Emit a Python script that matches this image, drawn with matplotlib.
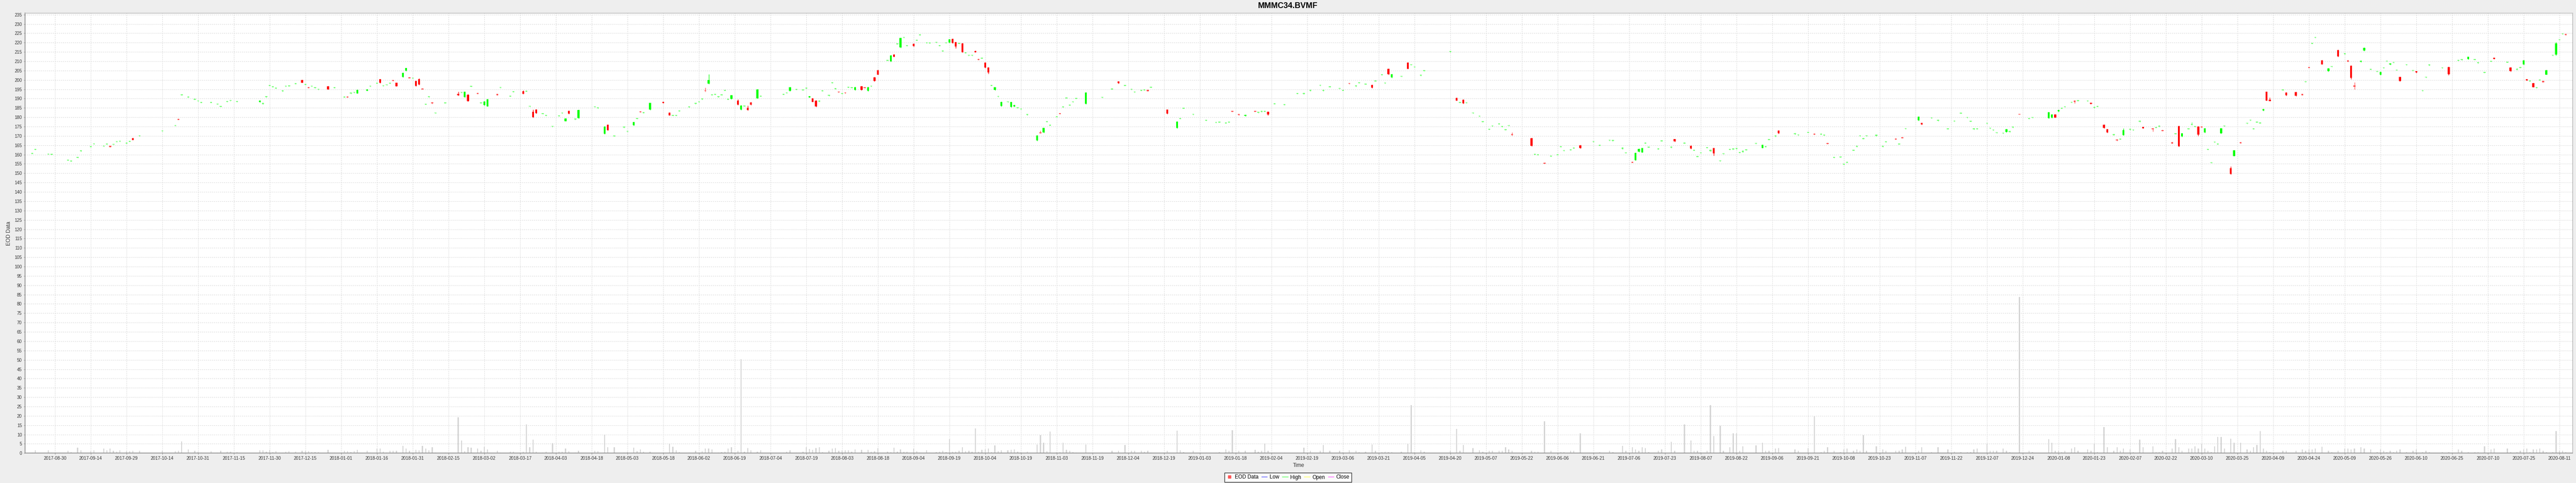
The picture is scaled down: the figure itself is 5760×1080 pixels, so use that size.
import numpy as np
import matplotlib
matplotlib.use("Agg")
import matplotlib.pyplot as plt
from matplotlib.lines import Line2D

plt.rcParams['font.family'] = ['Liberation Sans', 'DejaVu Sans']

title = "MMMC34.BVMF"
x_label = "Time"
y_label = "EOD Data"

# trading-day number of each session, counted on a Mon-Fri timeline from 2017-08-30
sessions = [
    -7, -6, -2, -1, 4, 5, 7, 8, 11, 12, 15, 16, 17, 18, 19, 20, 22, 23, 24, 26,
    33, 37, 38, 39, 41, 43, 44, 45, 48, 50, 51, 53, 54, 56, 63, 64, 65, 66, 67, 68,
    70, 71, 72, 74, 76, 77, 78, 79, 80, 81, 84, 86, 89, 90, 91, 92, 93, 96, 97, 99,
    100, 101, 102, 103, 104, 105, 107, 108, 109, 110, 111, 112, 113, 114, 115, 116, 117, 120, 124, 125,
    126, 127, 128, 130, 131, 132, 133, 136, 137, 140, 141, 144, 145, 146, 147, 148, 150, 151, 153, 155,
    156, 157, 158, 160, 161, 166, 167, 169, 170, 172, 175, 176, 178, 179, 180, 181, 183, 187, 189, 190,
    191, 192, 195, 197, 198, 199, 200, 201, 202, 203, 204, 205, 206, 207, 208, 210, 211, 212, 213, 214,
    216, 217, 224, 225, 226, 228, 230, 231, 232, 233, 234, 235, 236, 238, 239, 240, 241, 242, 243, 244,
    245, 246,
    248, 249, 250, 251, 252, 253, 256, 257, 258, 259, 260, 261, 262, 264, 265, 266, 268, 269, 271, 272,
    273, 274, 275, 276, 277, 278, 279, 280, 281, 282, 283, 284, 285, 286, 287, 288, 289, 290, 291, 293,
    294, 295, 296, 297, 299, 302, 303, 304, 305, 306, 308, 309, 310, 311, 312, 313, 314, 317, 322, 325,
    327, 329, 331, 332, 334, 335, 336, 337, 342, 345, 346, 347, 350, 354, 357, 358, 360, 361, 362, 364,
    366, 369, 370, 371, 372, 373, 375, 378, 382, 384, 386, 389, 390, 392, 395, 396, 398, 400, 401, 403,
    405, 406, 408, 409, 410, 411, 414, 416, 417, 418, 420, 421, 429, 431, 432, 433, 434, 436, 438, 439,
    441, 442, 444, 445, 446, 447, 448, 454, 455, 456, 458, 460, 462, 463, 464, 466, 467, 469, 473, 475,
    478, 479, 482, 483, 485, 486, 487, 488, 489, 490, 493, 494, 497, 498, 501, 503, 504, 505, 506, 508,
    509, 510,
    512, 513, 515, 516, 517, 518, 519, 520, 523, 525, 526, 527, 529, 530, 535, 536, 539, 541, 543, 544,
    545, 547, 549, 550, 551, 553, 554, 555, 556, 557, 560, 562, 563, 566, 567, 568, 569, 573, 574, 577,
    579, 582, 584, 586, 588, 589, 590, 591, 594, 595, 596, 597, 599, 600, 601, 602, 604, 607, 608, 613,
    614, 615, 616, 617, 618, 620, 621, 622, 625, 626, 627, 628, 630, 631, 633, 634, 635, 636, 638, 639,
    641, 642, 645, 646, 647, 648, 651, 652, 653, 654, 656, 657, 658, 659, 660, 661, 662, 663, 664, 665,
    666, 667, 669, 670, 672, 674, 675, 676, 677, 678, 679, 680, 681, 685, 686, 689, 691, 692, 693, 694,
    695, 697, 699, 700, 702, 704, 705, 706, 707, 709, 710, 712, 714, 715, 716, 717, 718, 719, 720, 721,
    723, 725, 726, 728, 729, 730, 734, 736, 739, 740, 742, 744, 745, 747, 749, 750, 754, 755, 757, 758,
    759, 760, 761, 762, 763, 764, 765, 766, 768, 769, 770, 771, 772,
]

opens = [
    160.4, 162.6, 160.1, 159.9, 156.8, 156.3, 158.3, 161.8, 164.1, 165.6, 164.4, 165.5, 164.6, 165.3, 166.8, 167.0, 166.0, 166.9, 168.8, 169.9,
    172.5, 175.4, 179.1, 191.8, 190.7, 189.5, 188.6, 187.8, 187.8, 186.9, 185.6, 188.2, 188.8, 188.2, 188.2, 187.1, 190.8, 196.8, 196.2, 195.4,
    193.9, 196.5, 196.6, 197.8, 200.0, 197.4, 196.1, 196.5, 195.6, 194.8, 196.6, 195.6, 190.7, 191.1, 192.7, 193.1, 192.8, 194.2, 196.5, 198.0,
    200.3, 196.7, 197.2, 198.0, 199.9, 198.4, 201.5, 205.0, 201.4, 200.8, 199.4, 200.3, 195.4, 186.8, 190.8, 188.0, 182.1, 187.5, 192.5, 193.1,
    190.8, 192.0, 196.4, 193.0, 187.5, 186.5, 185.9, 192.4, 195.8, 191.1, 193.5, 194.0, 193.8, 185.7, 183.0, 184.1, 181.8, 180.8, 174.9, 180.6,
    182.1, 178.0, 183.5, 178.8, 179.6, 185.5, 184.8, 171.2, 176.0, 169.8, 174.5, 172.3, 175.8, 179.1, 183.1, 182.3, 184.0, 188.3, 182.4, 180.8,
    180.8, 183.2, 185.3, 187.2, 188.1, 189.6, 194.4, 198.0, 191.8, 192.1, 190.8, 191.8, 194.2, 189.5, 189.8, 189.0, 184.0, 185.8, 185.0, 188.0,
    190.2, 191.1, 192.1, 192.9, 194.1, 194.7, 194.5, 195.4, 190.7, 190.2, 189.0, 188.4, 194.0, 191.5, 198.3, 195.1, 193.8, 192.5, 193.3, 195.9,
    195.6, 194.6,
    196.5, 196.0, 194.2, 196.5, 201.3, 205.2, 210.3, 210.0, 213.6, 219.1, 217.4, 222.6, 218.2, 219.3, 221.0, 224.0, 219.7, 219.6, 220.0, 218.2,
    215.3, 219.7, 220.0, 222.0, 220.2, 219.4, 219.6, 214.4, 213.0, 213.0, 215.6, 211.2, 211.5, 209.3, 206.6, 196.9, 194.6, 191.0, 186.0, 188.1,
    185.5, 185.8, 184.9, 184.3, 181.2, 167.5, 172.0, 171.8, 177.5, 175.6, 180.1, 182.1, 185.3, 190.2, 186.3, 188.1, 189.9, 187.2, 190.5, 195.0,
    199.1, 196.8, 194.8, 193.4, 194.2, 194.4, 194.6, 195.9, 184.0, 174.2, 179.1, 184.6, 181.4, 178.2, 177.1, 177.2, 176.8, 177.2, 183.3, 181.6,
    180.7, 183.3, 182.4, 182.9, 182.9, 183.0, 187.0, 186.6, 192.5, 192.5, 194.2, 197.0, 194.2, 196.2, 195.3, 194.2, 198.3, 196.6, 198.3, 197.6,
    197.3, 199.2, 202.6, 198.2, 205.9, 201.3, 201.8, 209.2, 208.0, 206.8, 202.3, 204.8, 215.0, 190.3, 187.8, 189.4, 187.6, 182.1, 180.4, 177.4,
    173.4, 175.2, 176.3, 174.8, 173.1, 175.4, 170.9, 168.7, 160.0, 159.7, 155.6, 159.0, 159.7, 164.0, 162.0, 162.3, 163.3, 164.9, 166.8, 164.8,
    167.5, 167.3, 163.1, 160.8, 156.1, 157.1, 161.5, 161.2, 166.0, 163.8, 162.9, 167.2, 163.7, 168.2, 166.0, 164.7, 162.1, 158.8, 160.8, 163.6,
    161.9, 163.4,
    156.5, 160.3, 162.6, 162.8, 163.0, 160.9, 161.4, 162.3, 165.8, 163.6, 164.1, 167.8, 169.8, 172.9, 171.0, 170.4, 171.7, 171.1, 170.8, 170.2,
    166.2, 158.3, 158.5, 154.6, 155.7, 162.1, 164.2, 169.9, 168.4, 169.9, 170.0, 164.2, 166.6, 168.5, 165.5, 169.2, 173.7, 178.4, 176.9, 179.5,
    178.1, 173.6, 177.8, 182.0, 179.7, 177.7, 173.6, 173.6, 176.6, 174.0, 173.0, 171.6, 171.3, 172.1, 172.2, 174.5, 181.8, 179.1, 179.7, 179.6,
    179.8, 181.4, 183.2, 184.6, 185.5, 187.9, 188.8, 188.7, 188.6, 187.8, 185.0, 185.6, 176.0, 173.5, 170.4, 168.1, 168.1, 170.4, 173.4, 173.0,
    177.6, 174.8, 174.0, 174.3, 175.0, 173.1, 166.6, 171.0, 175.2, 169.8, 173.6, 175.9, 174.8, 175.1, 175.0, 171.8, 162.6, 155.5, 166.5, 165.5,
    171.3, 175.2, 152.8, 159.3, 166.7, 176.6, 178.3, 173.6, 177.2, 176.8, 183.7, 193.6, 189.3, 194.5, 193.2, 193.5, 192.4, 198.9, 206.8, 219.4,
    222.6, 210.4, 204.6, 207.0, 216.0, 213.8, 210.4, 207.7, 197.0, 209.7, 215.8, 205.5, 204.4, 202.7, 206.3, 209.9, 208.2, 209.2, 205.1, 201.5,
    208.0, 204.9, 204.6, 194.1, 201.3, 207.8, 206.3, 206.8, 210.3, 210.7, 211.1, 210.8, 209.0, 203.8, 209.8, 211.8, 209.3, 206.6, 205.5, 206.5,
    208.3, 200.3, 199.3, 198.2, 195.6, 199.8, 199.4, 202.9, 213.0, 213.5, 221.4, 224.5, 224.6,
]

highs = [
    160.9, 163.1, 160.6, 160.4, 157.3, 156.8, 158.8, 162.3, 164.6, 166.1, 164.9, 166.0, 164.7, 165.8, 167.3, 167.5, 166.5, 167.4, 168.9, 170.4,
    173.0, 175.9, 179.2, 192.3, 191.2, 190.0, 189.1, 188.3, 188.3, 187.4, 186.1, 188.7, 189.3, 188.7, 189.1, 187.8, 191.3, 197.3, 196.7, 195.9,
    194.4, 197.0, 197.1, 198.3, 200.2, 197.9, 196.3, 197.0, 196.1, 195.3, 196.8, 196.1, 191.2, 191.2, 193.2, 193.6, 194.8, 195.2, 197.0, 198.5,
    200.5, 197.2, 197.7, 198.5, 200.0, 198.6, 204.0, 206.5, 201.5, 201.3, 199.6, 200.8, 195.6, 187.3, 191.3, 188.2, 182.6, 188.0, 193.7, 193.6,
    193.8, 192.4, 196.9, 193.2, 188.0, 188.6, 189.8, 192.6, 196.3, 191.6, 194.0, 194.4, 194.3, 186.2, 184.0, 184.3, 182.3, 181.3, 175.4, 181.1,
    182.6, 179.5, 183.7, 179.3, 184.0, 186.0, 185.3, 175.2, 176.2, 170.3, 175.0, 172.8, 177.7, 179.6, 183.2, 182.8, 187.8, 188.5, 182.6, 181.3,
    181.3, 183.7, 185.8, 187.7, 188.6, 190.1, 195.8, 203.0, 192.3, 192.6, 191.3, 192.3, 194.7, 190.0, 191.9, 189.6, 186.5, 186.3, 186.3, 188.2,
    195.2, 191.6, 192.6, 193.4, 196.2, 195.2, 195.0, 195.9, 191.4, 190.4, 189.2, 189.1, 194.5, 192.0, 198.8, 195.6, 194.0, 193.0, 193.5, 196.4,
    196.1, 196.3,
    196.7, 196.2, 196.3, 197.0, 201.5, 205.4, 210.8, 213.4, 213.8, 219.6, 222.7, 223.1, 218.7, 219.5, 221.5, 224.5, 220.2, 220.1, 220.5, 218.7,
    215.8, 220.2, 222.0, 222.2, 220.4, 219.9, 219.8, 214.9, 213.5, 213.5, 215.8, 211.4, 212.0, 209.5, 206.8, 197.4, 196.2, 191.5, 188.5, 188.6,
    188.3, 186.8, 185.4, 184.8, 181.7, 170.5, 172.8, 174.4, 178.0, 176.1, 180.6, 182.3, 185.8, 190.7, 186.8, 188.6, 190.4, 193.4, 191.0, 195.5,
    199.3, 197.3, 195.3, 193.9, 194.7, 194.9, 194.8, 196.4, 184.2, 177.9, 179.6, 185.1, 181.9, 178.7, 177.6, 177.7, 177.3, 177.7, 183.5, 181.8,
    181.5, 183.5, 182.9, 183.5, 183.4, 183.2, 187.5, 187.1, 193.0, 193.2, 194.8, 197.5, 194.8, 196.7, 195.8, 194.7, 198.5, 197.2, 198.8, 198.1,
    197.5, 199.7, 203.1, 198.7, 206.1, 203.3, 202.3, 209.4, 208.5, 207.3, 202.8, 205.3, 215.5, 190.5, 188.3, 189.6, 188.1, 182.6, 180.9, 177.9,
    173.9, 175.7, 176.8, 175.3, 173.6, 175.9, 172.0, 168.9, 160.5, 160.2, 155.8, 159.5, 160.2, 164.5, 162.5, 162.8, 163.8, 165.1, 167.3, 165.3,
    168.0, 167.9, 163.9, 161.3, 156.3, 161.0, 163.2, 163.6, 166.5, 164.3, 163.4, 167.7, 164.4, 168.4, 166.5, 164.9, 162.6, 159.3, 161.3, 164.1,
    162.7, 163.6,
    157.0, 160.8, 163.1, 163.5, 163.5, 161.4, 162.2, 162.8, 166.3, 165.3, 164.6, 168.3, 170.5, 173.1, 171.6, 170.9, 172.2, 171.3, 171.3, 170.7,
    166.4, 158.8, 159.0, 155.1, 156.2, 162.6, 164.7, 170.4, 168.9, 170.4, 170.8, 164.7, 167.1, 168.7, 166.0, 169.4, 174.3, 180.4, 177.1, 180.0,
    178.9, 174.1, 178.3, 182.5, 180.2, 178.2, 174.2, 174.1, 177.1, 174.5, 173.5, 172.1, 171.8, 173.7, 172.9, 175.0, 182.0, 179.6, 180.3, 182.8,
    181.6, 181.6, 184.1, 185.1, 186.0, 188.5, 189.1, 189.2, 189.1, 188.0, 185.7, 186.1, 176.2, 173.7, 171.1, 168.3, 168.6, 174.0, 174.1, 173.5,
    178.4, 175.0, 174.2, 174.8, 175.8, 173.3, 166.8, 171.5, 175.4, 171.5, 174.1, 177.3, 175.3, 175.3, 175.2, 174.2, 163.1, 156.0, 167.0, 166.0,
    174.2, 175.7, 153.7, 162.4, 166.9, 177.1, 178.8, 174.1, 177.7, 177.3, 184.5, 193.8, 190.5, 195.0, 193.4, 193.7, 192.6, 199.4, 207.0, 219.9,
    223.1, 210.6, 206.4, 207.5, 216.2, 214.3, 210.6, 207.9, 198.7, 210.5, 217.4, 206.0, 204.9, 204.5, 206.8, 210.4, 209.0, 209.7, 205.6, 201.7,
    208.5, 205.4, 204.8, 194.6, 201.8, 208.3, 206.8, 207.0, 210.8, 211.3, 212.5, 211.3, 209.5, 204.3, 210.3, 212.0, 209.8, 206.8, 206.4, 207.0,
    210.7, 200.5, 199.8, 198.4, 196.1, 200.3, 199.6, 205.4, 213.5, 220.3, 221.9, 225.0, 224.8,
]

lows = [
    160.3, 162.5, 160.0, 159.8, 156.7, 156.2, 158.2, 161.7, 164.0, 165.5, 164.3, 165.4, 163.9, 165.2, 166.7, 166.9, 165.9, 166.8, 167.7, 169.8,
    172.4, 175.3, 178.5, 191.7, 190.6, 189.4, 188.5, 187.7, 187.7, 186.8, 185.5, 188.1, 188.7, 188.1, 188.0, 186.9, 190.7, 196.7, 196.1, 195.3,
    193.8, 196.4, 196.5, 197.7, 198.4, 197.3, 195.5, 196.4, 195.5, 194.7, 194.9, 195.5, 190.6, 190.6, 192.6, 193.0, 192.7, 194.1, 196.4, 197.9,
    198.2, 196.6, 197.1, 197.9, 199.4, 196.5, 201.3, 204.8, 200.8, 200.7, 196.6, 197.3, 194.8, 186.7, 190.7, 187.3, 182.0, 187.4, 191.6, 193.0,
    190.6, 188.5, 196.3, 192.5, 187.4, 186.3, 185.7, 191.7, 195.7, 191.0, 193.4, 192.4, 193.7, 185.6, 179.8, 182.0, 181.7, 180.7, 174.8, 180.5,
    182.0, 177.8, 181.7, 178.7, 179.4, 185.4, 184.7, 171.0, 172.9, 169.7, 174.4, 172.2, 175.6, 179.0, 182.6, 182.2, 183.8, 187.5, 180.9, 180.7,
    180.7, 183.1, 185.2, 187.1, 188.0, 189.5, 193.6, 197.8, 191.7, 192.0, 190.7, 191.7, 194.1, 189.4, 189.6, 186.6, 183.8, 185.7, 183.6, 186.5,
    190.0, 191.0, 192.0, 192.8, 193.9, 194.6, 194.4, 195.3, 190.6, 188.1, 185.6, 188.3, 193.9, 191.4, 198.2, 195.0, 193.3, 192.4, 192.8, 195.8,
    195.5, 194.4,
    194.5, 195.5, 194.0, 196.4, 199.2, 202.7, 210.2, 209.8, 212.3, 219.0, 217.2, 222.5, 218.1, 218.0, 220.9, 223.9, 219.6, 219.5, 219.9, 218.1,
    215.2, 219.6, 219.8, 219.6, 217.0, 219.3, 214.7, 214.3, 212.9, 212.9, 214.8, 210.7, 211.4, 206.4, 203.4, 196.8, 194.4, 190.9, 185.8, 188.0,
    185.3, 185.6, 184.8, 184.2, 181.1, 167.3, 171.3, 171.6, 177.4, 175.5, 180.0, 181.7, 185.2, 190.1, 186.2, 188.0, 189.8, 187.0, 190.4, 194.9,
    198.0, 196.7, 194.7, 193.3, 194.1, 194.3, 193.9, 195.8, 181.7, 174.0, 179.0, 184.5, 181.3, 178.1, 177.0, 177.1, 176.7, 177.1, 182.8, 181.1,
    180.5, 182.8, 182.3, 182.7, 182.8, 181.0, 186.9, 186.5, 192.4, 192.3, 194.0, 196.9, 194.0, 196.1, 195.2, 194.1, 197.8, 196.4, 198.2, 197.5,
    195.6, 199.1, 202.5, 198.1, 202.9, 201.1, 201.7, 205.8, 207.9, 206.7, 202.2, 204.7, 214.9, 188.8, 187.7, 187.3, 187.5, 182.0, 180.3, 177.3,
    173.3, 175.1, 176.2, 174.7, 173.0, 175.3, 170.3, 164.4, 159.9, 159.6, 155.1, 158.9, 159.6, 163.9, 161.9, 162.2, 163.2, 163.2, 166.7, 164.7,
    167.4, 167.1, 162.9, 160.7, 155.6, 156.9, 161.3, 161.0, 165.9, 163.7, 162.8, 167.1, 163.5, 166.8, 165.9, 163.1, 162.0, 158.7, 160.7, 163.5,
    161.7, 159.5,
    156.4, 160.2, 162.5, 162.6, 162.9, 160.8, 161.2, 162.2, 165.7, 163.4, 164.0, 167.7, 169.6, 171.1, 170.8, 170.3, 171.6, 170.6, 170.7, 170.1,
    165.6, 158.2, 158.4, 154.5, 155.6, 162.0, 164.1, 169.8, 168.3, 169.8, 169.8, 164.1, 166.5, 168.0, 165.4, 168.7, 173.5, 178.2, 176.0, 179.4,
    177.9, 173.5, 177.7, 181.9, 179.6, 177.6, 173.4, 173.5, 176.5, 173.9, 172.9, 171.5, 171.2, 171.9, 172.0, 174.4, 181.4, 179.0, 179.5, 179.4,
    179.6, 179.7, 183.0, 184.5, 185.4, 187.7, 187.5, 188.6, 188.5, 187.1, 184.8, 185.5, 174.0, 171.6, 170.2, 167.4, 168.0, 170.2, 173.2, 172.9,
    177.4, 174.0, 172.3, 174.2, 174.8, 172.6, 165.9, 170.9, 164.2, 169.6, 173.5, 175.7, 174.7, 169.9, 174.5, 171.6, 162.5, 155.4, 166.4, 165.4,
    171.1, 175.1, 149.3, 159.1, 166.0, 176.5, 178.2, 173.5, 177.1, 176.7, 183.5, 188.8, 188.6, 194.4, 191.5, 191.3, 191.7, 198.8, 206.3, 219.3,
    222.5, 208.2, 204.4, 206.9, 212.5, 213.7, 209.7, 200.5, 194.8, 209.5, 215.6, 205.4, 204.3, 202.5, 206.2, 209.8, 208.0, 209.1, 205.0, 199.3,
    207.9, 204.8, 203.8, 194.0, 201.2, 207.7, 206.2, 202.6, 210.2, 210.5, 210.9, 210.7, 208.9, 203.7, 209.7, 211.1, 209.2, 204.4, 205.3, 206.4,
    208.1, 199.6, 199.2, 196.0, 195.5, 199.7, 198.7, 202.7, 212.9, 213.2, 221.3, 224.4, 224.0,
]

closes = [
    160.8, 163.0, 160.5, 160.3, 157.2, 156.7, 158.7, 162.2, 164.5, 166.0, 164.8, 165.9, 164.0, 165.7, 167.2, 167.4, 166.4, 167.3, 167.8, 170.3,
    172.9, 175.8, 178.6, 192.2, 191.1, 189.9, 189.0, 188.2, 188.2, 187.3, 186.0, 188.6, 189.2, 188.6, 188.9, 187.6, 191.2, 197.2, 196.6, 195.8,
    194.3, 196.9, 197.0, 198.2, 198.6, 197.8, 195.6, 196.9, 196.0, 195.2, 195.0, 196.0, 191.1, 190.7, 193.1, 193.5, 194.6, 195.0, 196.9, 198.4,
    198.4, 197.1, 197.6, 198.4, 199.5, 196.6, 203.8, 206.3, 200.9, 201.2, 196.8, 197.5, 194.9, 187.2, 191.2, 187.4, 182.5, 187.9, 191.8, 193.5,
    193.6, 188.7, 196.8, 192.6, 187.9, 188.4, 189.6, 191.8, 196.2, 191.5, 193.9, 192.6, 194.2, 186.1, 180.0, 182.2, 182.2, 181.2, 175.3, 181.0,
    182.5, 179.3, 181.9, 179.2, 183.8, 185.9, 185.2, 175.0, 173.1, 170.2, 174.9, 172.7, 177.5, 179.5, 182.7, 182.7, 187.6, 187.6, 181.1, 181.2,
    181.2, 183.6, 185.7, 187.6, 188.5, 190.0, 194.2, 200.0, 192.2, 192.5, 191.2, 192.2, 194.6, 189.9, 191.7, 186.8, 186.3, 186.2, 183.8, 186.7,
    195.0, 191.5, 192.5, 193.3, 196.0, 195.1, 194.9, 195.8, 191.3, 188.3, 185.8, 189.0, 194.4, 191.9, 198.7, 195.5, 193.4, 192.9, 192.9, 196.3,
    196.0, 196.1,
    194.7, 195.6, 196.1, 196.9, 199.4, 202.9, 210.7, 213.2, 212.5, 219.5, 222.5, 223.0, 218.6, 218.2, 221.4, 224.4, 220.1, 220.0, 220.4, 218.6,
    215.7, 220.1, 221.8, 219.8, 217.8, 219.8, 214.9, 214.8, 213.4, 213.4, 214.9, 210.8, 211.9, 206.6, 204.1, 197.3, 196.0, 191.4, 188.3, 188.5,
    188.1, 186.6, 185.3, 184.7, 181.6, 170.3, 171.5, 174.2, 177.9, 176.0, 180.5, 181.8, 185.7, 190.6, 186.7, 188.5, 190.3, 193.2, 190.9, 195.4,
    198.2, 197.2, 195.2, 193.8, 194.6, 194.8, 194.0, 196.3, 181.9, 177.7, 179.5, 185.0, 181.8, 178.6, 177.5, 177.6, 177.2, 177.6, 182.9, 181.2,
    181.3, 182.9, 182.8, 183.3, 183.3, 181.5, 187.4, 187.0, 192.9, 193.0, 194.6, 197.4, 194.6, 196.6, 195.7, 194.6, 197.9, 197.0, 198.7, 198.0,
    195.8, 199.6, 203.0, 198.6, 203.1, 203.1, 202.2, 206.0, 208.4, 207.2, 202.7, 205.2, 215.4, 189.0, 188.2, 187.5, 188.0, 182.5, 180.8, 177.8,
    173.8, 175.6, 176.7, 175.2, 173.5, 175.8, 170.4, 164.6, 160.4, 160.1, 155.2, 159.4, 160.1, 164.4, 162.4, 162.7, 163.7, 163.4, 167.2, 165.2,
    167.9, 167.7, 163.7, 161.2, 155.7, 160.8, 163.0, 163.4, 166.4, 164.2, 163.3, 167.6, 164.2, 167.0, 166.4, 163.3, 162.5, 159.2, 161.2, 164.0,
    162.5, 160.6,
    156.9, 160.7, 163.0, 163.3, 163.4, 161.3, 162.0, 162.7, 166.2, 165.1, 164.5, 168.2, 170.3, 171.3, 171.4, 170.8, 172.1, 170.7, 171.2, 170.6,
    165.7, 158.7, 158.9, 155.0, 156.1, 162.5, 164.6, 170.3, 168.8, 170.3, 170.6, 164.6, 167.0, 168.1, 165.9, 168.8, 174.1, 180.2, 176.1, 179.9,
    178.7, 174.0, 178.2, 182.4, 180.1, 178.1, 174.0, 174.0, 177.0, 174.4, 173.4, 172.0, 171.7, 173.5, 172.7, 174.9, 181.5, 179.5, 180.1, 182.6,
    181.4, 179.9, 183.9, 185.0, 185.9, 188.3, 188.3, 189.1, 189.0, 187.2, 185.5, 186.0, 174.2, 171.8, 170.9, 167.5, 168.5, 173.0, 173.9, 173.4,
    178.2, 174.1, 173.6, 174.7, 175.6, 172.7, 166.0, 171.4, 164.4, 171.3, 174.0, 176.5, 175.2, 170.7, 174.6, 174.0, 163.0, 155.9, 166.9, 165.9,
    174.0, 175.6, 149.5, 162.2, 166.1, 177.0, 178.7, 174.0, 177.6, 177.2, 184.3, 189.0, 188.7, 194.9, 191.7, 191.5, 191.8, 199.3, 206.4, 219.8,
    223.0, 208.4, 206.2, 207.4, 212.7, 214.2, 209.8, 201.1, 196.4, 210.3, 217.2, 205.9, 204.8, 204.3, 206.7, 210.3, 208.8, 209.6, 205.5, 199.5,
    208.4, 205.3, 203.9, 194.5, 201.7, 208.2, 206.7, 203.0, 210.7, 211.1, 212.3, 211.2, 209.4, 204.2, 210.2, 211.2, 209.7, 204.6, 205.9, 206.9,
    210.5, 199.7, 199.7, 196.2, 196.0, 200.2, 198.8, 205.2, 213.4, 219.5, 221.8, 224.9, 224.1,
]

volumes = [
    0.3, 1.5, 1.5, 0.3, 1.2, 0.5, 2.9, 1.5, 1.0, 1.5, 2.4, 1.5, 2.4, 1.2, 0.7, 1.5, 1.0, 1.0, 1.2, 1.2,
    1.2, 1.0, 1.2, 6.4, 1.9, 1.2, 0.7, 0.3, 1.0, 0.3, 1.2, 0.9, 0.8, 0.5, 1.4, 1.4, 0.9, 1.8, 0.5, 1.1,
    0.4, 0.8, 1.1, 0.8, 1.2, 1.2, 1.1, 0.6, 0.5, 0.6, 1.7, 0.4, 1.2, 1.1, 0.5, 1.1, 1.7, 1.2, 0.4, 2.4,
    2.4, 0.9, 0.3, 1.2, 1.2, 1.2, 4.0, 2.4, 1.2, 0.4, 1.8, 1.4, 3.8, 2.4, 1.5, 3.2, 0.4, 0.4, 19.3, 6.9,
    1.1, 3.1, 2.9, 2.4, 1.2, 3.5, 2.1, 1.2, 0.3, 0.9, 0.9, 0.9, 15.3, 3.1, 7.2, 0.9, 0.3, 0.9, 5.3, 0.9,
    0.9, 2.4, 1.1, 0.4, 1.2, 1.2, 1.1, 9.8, 3.2, 3.1, 0.4, 0.9, 2.9, 1.1, 2.1, 0.9, 0.9, 0.3, 5.0, 3.4,
    1.4, 0.6, 0.3, 1.2, 0.4, 1.1, 2.4, 2.4, 2.0, 0.3, 0.3, 0.6, 0.9, 2.4, 3.2, 1.2, 50.3, 0.9, 2.7, 1.4,
    0.9, 1.4, 0.3, 0.8, 1.4, 0.3, 0.9, 3.2, 2.3, 1.7, 2.6, 3.2, 0.6, 1.2, 2.4, 2.6, 1.2, 1.5, 1.4, 1.5,
    0.9, 2.0,
    1.7, 0.3, 1.8, 0.9, 1.1, 2.6, 0.9, 0.6, 2.9, 0.8, 2.0, 0.8, 0.8, 2.4, 1.1, 0.4, 1.4, 0.3, 0.6, 0.8,
    1.2, 0.6, 7.5, 0.9, 0.9, 1.2, 3.2, 1.1, 1.2, 0.8, 13.3, 0.9, 1.8, 2.0, 2.4, 0.5, 4.1, 1.1, 1.5, 1.5,
    1.8, 2.1, 0.9, 0.6, 0.8, 4.7, 9.6, 5.7, 1.1, 11.5, 0.6, 0.6, 5.5, 1.7, 1.2, 0.6, 0.3, 4.7, 0.3, 1.2,
    1.2, 4.3, 1.2, 1.2, 1.2, 0.8, 1.2, 0.3, 1.2, 12.1, 1.5, 0.6, 1.2, 0.3, 0.3, 0.6, 2.0, 1.2, 12.4, 1.2,
    1.2, 1.8, 0.8, 1.2, 5.0, 1.2, 0.3, 0.3, 0.3, 2.9, 1.2, 1.2, 4.3, 1.2, 1.2, 0.6, 1.5, 1.2, 0.6, 0.9,
    4.6, 1.2, 0.6, 0.9, 0.6, 0.6, 0.9, 4.9, 25.8, 0.6, 1.5, 0.9, 1.2, 13.1, 1.2, 4.3, 0.3, 2.8, 1.5, 0.9,
    1.2, 1.2, 1.2, 1.2, 3.1, 2.1, 1.2, 1.2, 0.9, 0.9, 17.1, 1.2, 0.3, 0.6, 0.6, 1.2, 1.2, 10.7, 0.3, 0.6,
    1.2, 0.6, 3.8, 1.2, 3.1, 2.0, 1.2, 3.1, 2.6, 0.6, 1.2, 2.0, 6.0, 1.2, 15.3, 6.9, 1.2, 1.2, 0.6, 1.2,
    25.8, 9.2,
    14.8, 1.2, 3.1, 10.5, 10.5, 1.2, 3.7, 0.3, 4.1, 5.5, 1.2, 1.2, 2.4, 2.8, 2.0, 1.2, 2.8, 19.7, 0.6, 1.2,
    3.2, 1.2, 0.6, 2.0, 2.4, 1.2, 2.0, 1.2, 9.6, 1.2, 3.7, 2.0, 1.2, 1.2, 1.2, 2.0, 3.5, 1.2, 3.1, 0.6,
    3.1, 2.0, 0.9, 0.6, 0.6, 0.6, 2.0, 2.4, 5.0, 1.2, 1.2, 1.2, 2.4, 1.2, 0.6, 0.3, 83.6, 1.2, 0.6, 7.5,
    5.5, 1.2, 1.2, 0.6, 1.2, 2.4, 3.2, 1.2, 2.0, 1.2, 5.0, 0.6, 13.9, 3.1, 1.2, 3.1, 1.2, 2.4, 2.0, 0.6,
    7.2, 3.1, 3.7, 0.6, 0.6, 1.2, 2.4, 7.5, 3.1, 1.2, 2.4, 2.4, 3.7, 2.4, 5.0, 2.4, 1.2, 0.6, 3.7, 8.7,
    8.7, 2.4, 7.8, 5.5, 5.5, 2.0, 1.2, 3.1, 4.4, 11.9, 2.4, 1.2, 0.6, 1.2, 1.2, 1.2, 2.0, 1.2, 2.0, 2.0,
    2.4, 3.5, 1.2, 0.6, 1.2, 2.4, 2.4, 2.0, 2.4, 3.1, 2.4, 2.0, 0.6, 2.0, 1.2, 0.6, 1.2, 0.6, 1.2, 2.0,
    0.6, 1.2, 2.0, 0.6, 1.2, 0.6, 0.6, 0.6, 2.0, 1.2, 0.6, 0.6, 0.6, 3.7, 2.0, 2.4, 2.4, 0.6, 0.6, 1.2,
    2.0, 2.4, 0.6, 2.0, 2.0, 2.4, 1.2, 0.6, 0.6, 11.9, 1.2, 1.2, 0.6,
]

tick_labels = [
    "2017-08-30", "2017-09-14", "2017-09-29", "2017-10-14", "2017-10-31", "2017-11-15", "2017-11-30",
    "2017-12-15", "2018-01-01", "2018-01-16", "2018-01-31", "2018-02-15", "2018-03-02", "2018-03-17",
    "2018-04-03", "2018-04-18", "2018-05-03", "2018-05-18", "2018-06-02", "2018-06-19", "2018-07-04",
    "2018-07-19", "2018-08-03", "2018-08-18", "2018-09-04", "2018-09-19", "2018-10-04", "2018-10-19",
    "2018-11-03", "2018-11-19", "2018-12-04", "2018-12-19", "2019-01-03", "2019-01-18", "2019-02-04",
    "2019-02-19", "2019-03-06", "2019-03-21", "2019-04-05", "2019-04-20", "2019-05-07", "2019-05-22",
    "2019-06-06", "2019-06-21", "2019-07-06", "2019-07-23", "2019-08-07", "2019-08-22", "2019-09-06",
    "2019-09-21", "2019-10-08", "2019-10-23", "2019-11-07", "2019-11-22", "2019-12-07", "2019-12-24",
    "2020-01-08", "2020-01-23", "2020-02-07", "2020-02-22", "2020-03-10", "2020-03-25", "2020-04-09",
    "2020-04-24", "2020-05-09", "2020-05-26", "2020-06-10", "2020-06-25", "2020-07-10", "2020-07-25",
    "2020-08-11",
]
tick_step_sessions = 11

legend_labels = ["EOD Data", "Low", "High", "Open", "Close"]

n = len(sessions)
assert all(len(a) == n for a in (opens, highs, lows, closes, volumes)), \
    [len(a) for a in (sessions, opens, highs, lows, closes, volumes)]

x = np.asarray(sessions, dtype=float)
o = np.asarray(opens)
h = np.asarray(highs)
l = np.asarray(lows)
c = np.asarray(closes)
v = np.asarray(volumes)

W, H = 5760, 1080
fig = plt.figure(figsize=(W / 100, H / 100), dpi=100, facecolor="#eeeeee")
ax = fig.add_axes([56 / W, 1 - 1013.3 / H, (5752.3 - 56) / W, (1013.3 - 29.3) / H])
ax.set_facecolor("white")

# volume bars
ax.bar(x, v, width=0.32, color="#d4d4d4", linewidth=0, zorder=2)

# candles: small-bodied ones render paler, as in the reference
up = c >= o
big = np.abs(c - o) >= 0.6
cols_big = np.where(up, "#00ff00", "#ff0000")
cols_small = np.where(up, "#70ff70", "#ff5050")
cols = np.where(big, cols_big, cols_small)
ax.vlines(x, l, h, colors=cols, linewidth=0.9, zorder=3)
body_lo = np.minimum(o, c)
body_h = np.maximum(np.abs(c - o), 0.25)
ax.bar(x, body_h, bottom=body_lo, width=0.6, color=cols, linewidth=0, zorder=4)

ax.set_xlim(-9.17, 774.06)
ax.set_ylim(0, 235.8)
ax.set_yticks(np.arange(0, 236, 5))
ax.set_xticks(np.arange(len(tick_labels)) * tick_step_sessions)
ax.set_xticklabels(tick_labels)
ax.tick_params(axis="both", labelsize=7.2, length=2, width=0.8, color="#999999",
               labelcolor="#333333", pad=3)
ax.grid(True, color="#d6d6d6", linestyle=(0, (2, 2)), linewidth=0.8, zorder=0)
ax.set_axisbelow(True)
for side in ("left", "bottom"):
    ax.spines[side].set_color("#8c8c8c")
    ax.spines[side].set_linewidth(1.2)
for side in ("top", "right"):
    ax.spines[side].set_color("#b4b4b4")
    ax.spines[side].set_linewidth(1.0)

fig.text(0.5, 1 - 13.4 / H, title, ha="center", va="center", fontsize=12.9,
         fontweight="bold", color="black")
fig.text(2904 / W, 1 - 1040.7 / H, x_label, ha="center", va="center", fontsize=8.6,
         color="#333333")
fig.text(20 / W, 1 - 521.5 / H, y_label, ha="center", va="center", rotation=90,
         fontsize=8.6, color="#333333")

handles = [
    Line2D([], [], linestyle="none", marker="s", markersize=5, markerfacecolor="#ff5555",
           markeredgecolor="#ff5555"),
    Line2D([], [], color="#5555ff", lw=1),
    Line2D([], [], color="#55ff55", lw=1),
    Line2D([], [], color="#ffff55", lw=1),
    Line2D([], [], color="#ff55ff", lw=1),
]
leg = fig.legend(handles, legend_labels, loc="center", bbox_to_anchor=(0.5, 1 - 1067.5 / H),
                 ncol=5, fontsize=8.4, frameon=True, fancybox=False, handlelength=1.1,
                 handletextpad=0.45, columnspacing=0.6, borderpad=0.35, borderaxespad=0)
leg.get_frame().set_edgecolor("black")
leg.get_frame().set_linewidth(1.0)
leg.get_frame().set_facecolor("white")

fig.savefig("out.png", dpi=100, facecolor=fig.get_facecolor())
